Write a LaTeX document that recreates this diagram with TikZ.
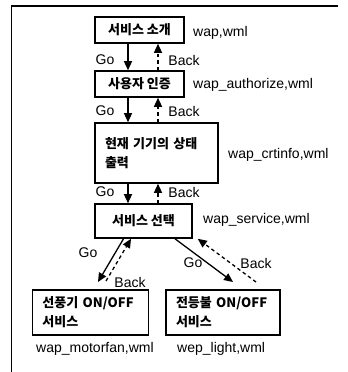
\documentclass[tikz,border=0pt]{standalone}
\usepackage{fontspec}
\setmainfont{Liberation Sans}
\newfontfamily\kr{Noto Sans CJK KR}
\usetikzlibrary{arrows.meta}
\begin{document}
\begin{tikzpicture}[x=1bp,y=-1bp,
  box/.style={draw, line width=1.6bp, inner sep=0, font=\kr\bfseries\fontsize{13bp}{19bp}\selectfont},
  lbox/.style={box, align=left, inner xsep=10bp},
  lab/.style={font=\fontsize{14bp}{16bp}\selectfont, inner sep=0},
  fname/.style={lab, anchor=west},
  go/.style={draw, line width=1.3bp, -{Triangle[length=9bp,width=8bp]}},
  bk/.style={draw, line width=1.3bp, dash pattern=on 3.5bp off 3bp, -{Triangle[length=9bp,width=8bp]}}]
\useasboundingbox (0,0) rectangle (348,372);
\draw[line width=1.2bp] (338,6) -- (11.5,6) -- (11.5,372);

\node[box, minimum width=89bp, minimum height=26bp] (b1) at (139.5,30) {서비스 소개};
\node[box, minimum width=89bp, minimum height=26bp] (b2) at (139.5,84) {사용자 인증};
\node[lbox, text width=103bp, minimum height=60bp] (b3) at (156.5,153) {\mbox{현재 기기의 상태}\\출력};
\node[box, minimum width=97bp, minimum height=34bp] (b4) at (143.5,221) {서비스 선택};
\node[lbox, text width=96bp, minimum height=45bp] (b5) at (90.5,312.5) {\mbox{선풍기 ON/OFF}\\서비스};
\node[lbox, text width=94bp, minimum height=45bp] (b6) at (223,312.5) {\mbox{전등불 ON/OFF}\\서비스};

\node[fname] (f1) at (193,33) {wap,wml};
\node[fname] (f2) at (193,85) {wap\_authorize,wml};
\node[fname] (f3) at (228,155) {wap\_crtinfo,wml};
\node[fname] (f4) at (203,220) {wap\_service,wml};
\node[fname] (f5) at (36,349) {wap\_motorfan,wml};
\node[fname] (f6) at (177,349) {wep\_light,wml};

\coordinate (gx) at (128,0);
\coordinate (dx) at (158,0);
\draw[go] (b1.south -| gx) -- (b2.north -| gx);
\draw[bk] (b2.north -| dx) -- (b1.south -| dx);
\draw[go] (b2.south -| gx) -- (b3.north -| gx);
\draw[bk] (b3.north -| dx) -- (b2.south -| dx);
\draw[go] (b3.south -| gx) -- (b4.north -| gx);
\draw[bk] (b4.north -| dx) -- (b3.south -| dx);

\node[lab] (g1) at (105,60) {Go};
\node[lab] (k1) at (184,60) {Back};
\node[lab] (g2) at (105,111) {Go};
\node[lab] (k2) at (184,111) {Back};
\node[lab] (g3) at (105,192) {Go};
\node[lab] (k3) at (184,192) {Back};

\coordinate (lgo) at (98,282);
\coordinate (lbk) at (106,281);
\coordinate (rgo) at (233,282);
\coordinate (rbk) at (256,282);
\draw[go] ([xshift=-20bp]b4.south) -- (lgo);
\draw[bk] (lbk) -- ([xshift=-12.5bp]b4.south);
\draw[go] ([xshift=31.5bp]b4.south) -- (rgo);
\draw[bk] (rbk) -- ([xshift=5bp]b4.south east);

\node[lab] (g4) at (88,253) {Go};
\node[lab] (k4) at (130,282) {Back};
\node[lab] (g5) at (193,263) {Go};
\node[lab] (k5) at (256,263) {Back};
\end{tikzpicture}
\end{document}
